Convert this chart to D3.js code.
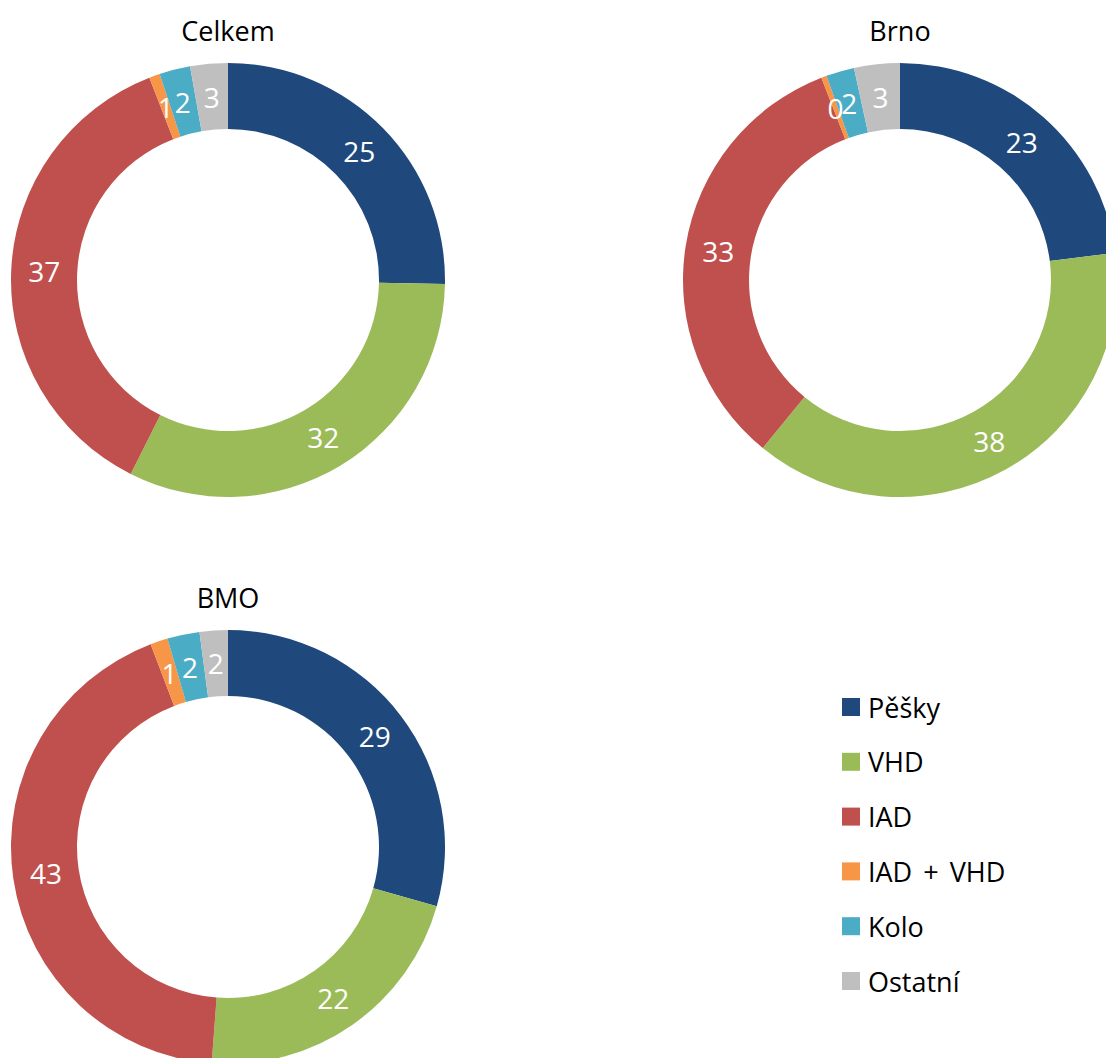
<!DOCTYPE html>
<html>
<head>
<meta charset="utf-8">
<script src="https://cdn.jsdelivr.net/npm/d3@7"></script>
<style>
  html, body { margin: 0; padding: 0; background: #fff; }
  svg { display: block; font-family: "Open Sans", "Noto Sans", sans-serif; }
</style>
</head>
<body>
<svg id="chart" width="1106" height="1058"></svg>
<script>
// Modal split of trips (%), by area
const categories = ["Pěšky", "VHD", "IAD", "IAD + VHD", "Kolo", "Ostatní"];
const colors = ["#1F497D", "#9BBB59", "#C0504D", "#F79646", "#4BACC6", "#BFBFBF"];

const celkemValues = [25.3, 32.1, 36.7, 0.8, 2.3, 2.8];
const brnoValues   = [23.0, 37.9, 33.2, 0.4, 2.1, 3.4];
const bmoValues    = [29.4, 21.8, 43.0, 1.3, 2.4, 2.1];

const panels = [
  { title: "Celkem", values: celkemValues, cx: 228, cy: 280 },
  { title: "Brno",   values: brnoValues,   cx: 900, cy: 280 },
  { title: "BMO",    values: bmoValues,    cx: 228, cy: 847 }
];

const svg = d3.select("#chart");
const outerR = 217, innerR = 151;

const color = d3.scaleOrdinal().domain(categories).range(colors);
const pie = d3.pie().sort(null).value(d => d.value);
const arc = d3.arc().innerRadius(innerR).outerRadius(outerR);

panels.forEach(p => {
  const data = categories.map((c, i) => ({ cat: c, value: p.values[i] }));
  const g = svg.append("g").attr("transform", `translate(${p.cx},${p.cy})`);
  const arcs = pie(data);

  g.selectAll("path.slice")
    .data(arcs)
    .join("path")
    .attr("class", "slice")
    .attr("d", arc)
    .attr("fill", d => color(d.data.cat));

  g.selectAll("text.val")
    .data(arcs)
    .join("text")
    .attr("class", "val")
    .attr("transform", d => `translate(${arc.centroid(d)})`)
    .attr("text-anchor", "middle")
    .attr("dominant-baseline", "central")
    .attr("fill", "#fff")
    .attr("font-size", 28)
    .text(d => d3.format(".0f")(d.data.value));

  svg.append("text")
    .attr("x", p.cx)
    .attr("y", p.cy - outerR - 33)
    .attr("text-anchor", "middle")
    .attr("dominant-baseline", "central")
    .attr("font-size", 27)
    .attr("fill", "#000")
    .text(p.title);
});

// Legend
const legendY = d3.scalePoint().domain(categories).range([707, 981]);
const legend = svg.append("g");
const item = legend.selectAll("g.item")
  .data(categories)
  .join("g")
  .attr("class", "item")
  .attr("transform", d => `translate(842,${legendY(d)})`);
item.append("rect")
  .attr("x", 0).attr("y", -9)
  .attr("width", 18).attr("height", 18)
  .attr("fill", d => color(d));
item.append("text")
  .attr("x", 26)
  .attr("y", 0)
  .attr("dominant-baseline", "central")
  .attr("font-size", 27)
  .attr("word-spacing", 4)
  .attr("fill", "#000")
  .text(d => d);
</script>
</body>
</html>
